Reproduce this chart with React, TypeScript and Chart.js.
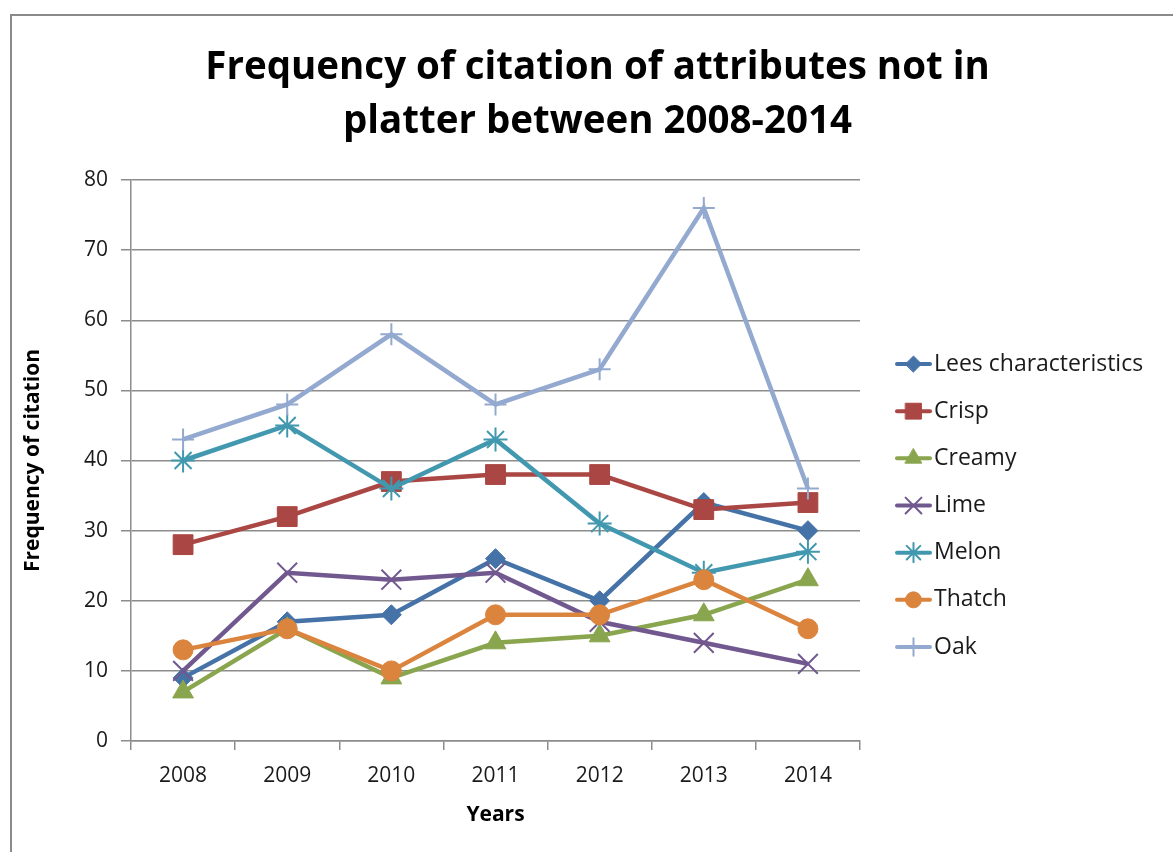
import React, { useEffect, useRef } from "react";
import { Chart, registerables } from "chart.js";
import { drawPoint } from "chart.js/helpers";

Chart.register(...registerables);

// Years on the x axis
const years = ["2008", "2009", "2010", "2011", "2012", "2013", "2014"];

// Citation counts per attribute
const lees = [9, 17, 18, 26, 20, 34, 30];
const crisp = [28, 32, 37, 38, 38, 33, 34];
const creamy = [7, 16, 9, 14, 15, 18, 23];
const lime = [10, 24, 23, 24, 17, 14, 11];
const melon = [40, 45, 36, 43, 31, 24, 27];
const thatch = [13, 16, 10, 18, 18, 23, 16];
const oak = [43, 48, 58, 48, 53, 76, 36];

const yTicks = [0, 10, 20, 30, 40, 50, 60, 70, 80];

const titleLines = ["Frequency of citation of attributes not in", "platter between 2008-2014"];

const FONT = "'Open Sans', 'Liberation Sans', Arial, sans-serif";
const TEXT = "#1a1a1a";
const GRID = "#8c8c8c";

const seriesDefs = [
  { label: "Lees characteristics", data: lees, color: "#4572A7", style: "rectRot", radius: 10, bw: 1 },
  { label: "Crisp", data: crisp, color: "#AA4643", style: "rect", radius: 14, bw: 1 },
  { label: "Creamy", data: creamy, color: "#89A54E", style: "triangle", radius: 12, bw: 1 },
  { label: "Lime", data: lime, color: "#71588F", style: "crossRot", radius: 14, bw: 2 },
  { label: "Melon", data: melon, color: "#4198AF", style: "star", radius: 12, bw: 2 },
  { label: "Thatch", data: thatch, color: "#DB843D", style: "circle", radius: 10, bw: 1 },
  { label: "Oak", data: oak, color: "#93A9CF", style: "cross", radius: 11, bw: 2 },
];

// Two-line heading centred on the whole canvas
const heading = {
  id: "heading",
  afterDraw(chart: any) {
    const { ctx, width } = chart;
    ctx.save();
    ctx.fillStyle = "#000";
    ctx.font = `bold 38.5px ${FONT}`;
    ctx.textAlign = "center";
    ctx.textBaseline = "alphabetic";
    ctx.fillText(titleLines[0], width / 2, 63);
    ctx.fillText(titleLines[1], width / 2, 117);
    ctx.restore();
  },
};

// Legend with a short line and marker per series, drawn to the right of the plot
const sideLegend = {
  id: "sideLegend",
  afterDraw(chart: any) {
    const { ctx } = chart;
    const x0 = 885;
    const x1 = 918;
    const textX = 922;
    const y0 = 348;
    const gap = 47.17;
    ctx.save();
    chart.data.datasets.forEach((ds: any, i: number) => {
      const y = y0 + i * gap;
      ctx.strokeStyle = ds.borderColor;
      ctx.lineWidth = 4;
      ctx.lineCap = "round";
      ctx.beginPath();
      ctx.moveTo(x0, y);
      ctx.lineTo(x1, y);
      ctx.stroke();
      ctx.fillStyle = ds.pointBackgroundColor;
      ctx.strokeStyle = ds.pointBorderColor;
      ctx.lineWidth = ds.pointBorderWidth;
      drawPoint(ctx, { pointStyle: ds.pointStyle, rotation: 0, radius: ds.pointRadius * 0.8, borderWidth: ds.pointBorderWidth }, (x0 + x1) / 2, y);
      ctx.fillStyle = TEXT;
      ctx.font = `23px ${FONT}`;
      ctx.textAlign = "left";
      ctx.textBaseline = "middle";
      ctx.fillText(ds.label, textX, y);
    });
    ctx.restore();
  },
};

function CitationChart() {
  const canvasRef = useRef<HTMLCanvasElement | null>(null);

  useEffect(() => {
    const prevHtml = document.documentElement.style.overflow;
    const prevBody = document.body.style.overflow;
    document.documentElement.style.overflow = "hidden";
    document.body.style.overflow = "hidden";

    const canvas = canvasRef.current;
    if (!canvas) return;

    const chart = new Chart(canvas, {
      type: "line",
      data: {
        labels: years,
        datasets: seriesDefs.map((s, i) => ({
          label: s.label,
          data: s.data,
          borderColor: s.color,
          backgroundColor: s.color,
          borderWidth: 4.5,
          pointStyle: s.style as any,
          pointRadius: s.radius,
          pointHoverRadius: s.radius,
          pointBackgroundColor: s.color,
          pointBorderColor: s.color,
          pointBorderWidth: s.bw,
          tension: 0,
          fill: false,
          order: seriesDefs.length - 1 - i,
        })),
      },
      options: {
        responsive: false,
        animation: false,
        layout: { padding: { left: 0, right: 323, top: 164, bottom: 0 } },
        plugins: {
          legend: { display: false },
          tooltip: { enabled: false },
          title: { display: false },
        },
        scales: {
          x: {
            offset: true,
            afterFit(axis: any) {
              axis.height = 111;
            },
            grid: {
              offset: true,
              drawOnChartArea: false,
              drawTicks: true,
              tickLength: 9,
              color: GRID,
              lineWidth: 1.5,
            },
            border: { color: GRID, width: 1.5 },
            ticks: {
              color: TEXT,
              padding: 13,
              maxRotation: 0,
              font: { family: FONT, size: 21 },
            },
            title: {
              display: true,
              text: "Years",
              color: "#000",
              font: { family: FONT, size: 21, weight: "bold" },
              padding: { top: 0, bottom: 24 },
            },
          },
          y: {
            min: 0,
            max: 80,
            afterFit(axis: any) {
              axis.width = 119;
            },
            afterBuildTicks(axis: any) {
              axis.ticks = yTicks.map((v) => ({ value: v }));
            },
            grid: {
              drawTicks: true,
              tickLength: 10,
              color: GRID,
              lineWidth: 1.5,
            },
            border: { color: GRID, width: 1.5 },
            ticks: {
              color: TEXT,
              padding: 13,
              font: { family: FONT, size: 21 },
            },
            title: {
              display: true,
              text: "Frequency of citation",
              color: "#000",
              font: { family: FONT, size: 21, weight: "bold" },
              padding: { top: 8, bottom: 0 },
            },
          },
        },
      },
      plugins: [heading, sideLegend],
    });

    return () => {
      chart.destroy();
      document.documentElement.style.overflow = prevHtml;
      document.body.style.overflow = prevBody;
    };
  }, []);

  return (
    <div
      style={{
        position: "absolute",
        left: 10,
        top: 14,
        width: 1200,
        height: 900,
        borderTop: "2px solid #8a8a8a",
        borderLeft: "2px solid #8a8a8a",
        background: "#fff",
        overflow: "hidden",
      }}
    >
      <canvas
        ref={canvasRef}
        width={1171}
        height={836}
        style={{ position: "absolute", left: 0, top: 0, width: 1171, height: 836 }}
      />
    </div>
  );
}

export default function App() {
  return <CitationChart />;
}
